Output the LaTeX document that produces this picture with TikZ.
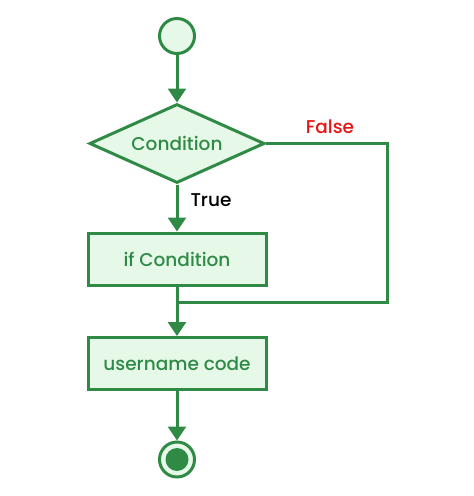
\documentclass[tikz,border=0pt]{standalone}
\usepackage{fontspec}
\setmainfont{Poppins Medium}
\usetikzlibrary{arrows.meta,shapes.geometric}
\definecolor{gline}{RGB}{47,138,70}
\definecolor{gfill}{RGB}{230,249,232}
\definecolor{fred}{RGB}{230,20,20}
\tikzset{
  flow/.style={draw=gline,line width=3pt,-{Triangle[width=18pt,length=14pt]}},
  plain/.style={draw=gline,line width=3pt},
  boxnode/.style={draw=gline,fill=gfill,line width=3pt,minimum width=178pt,minimum height=52pt,text=gline,font=\fontsize{18.5}{20}\selectfont,inner sep=0pt},
  decnode/.style={draw=gline,fill=gfill,line width=3pt,diamond,aspect=2.2,minimum width=175pt,minimum height=79pt,text=gline,font=\fontsize{18.5}{20}\selectfont,inner sep=0pt},
  termnode/.style={draw=gline,fill=gfill,line width=3pt,circle,minimum size=35pt,inner sep=0pt},
  lbl/.style={font=\fontsize{18.5}{20}\selectfont}
}
\begin{document}
\begin{tikzpicture}[x=1pt,y=-1pt]
\useasboundingbox (0,0) rectangle (474,496);
\node[termnode] (start) at (177,36) {};
\node[decnode] (cond) at (177,143.5) {Condition};
\node[boxnode] (ifc) at (177,259) {if Condition};
\node[boxnode] (user) at (177,363.5) {username code};
\node[termnode] (stop) at (177,459.5) {};
\fill[gline] (stop.center) circle (11.5pt);
\coordinate (c1) at (387,143.5);
\coordinate (c2) at (387,302);
\coordinate (c3) at (177,302);
\draw[flow] (start) -- (cond);
\draw[flow] (cond) -- (ifc);
\draw[flow] (ifc) -- (user);
\draw[flow] (user) -- (stop);
\draw[plain,line join=miter] (cond.east) -- (c1) -- (c2) -- (c3);
\node[lbl,text=fred] (flbl) at (330,127) {False};
\node[lbl,text=black] (tlbl) at (211,200) {True};
\end{tikzpicture}
\end{document}
